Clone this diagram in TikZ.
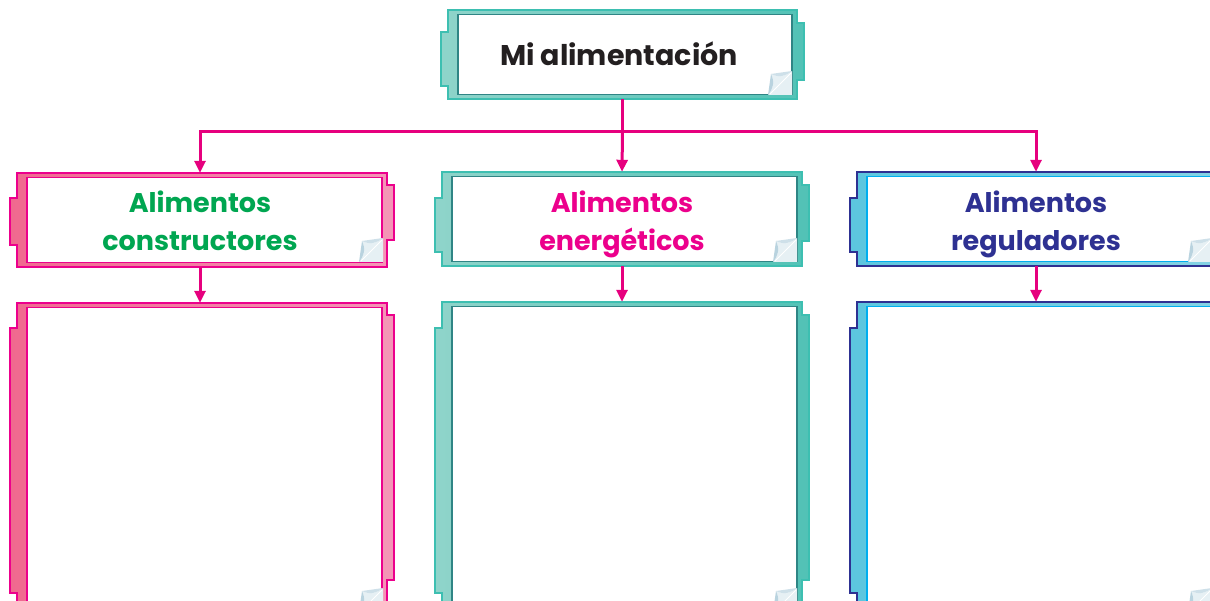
\documentclass[tikz,border=0pt]{standalone}
\usepackage{fontspec}
\setmainfont{Poppins}
\usetikzlibrary{arrows.meta,calc}
\definecolor{mag}{HTML}{E6007E}
\definecolor{tealO}{HTML}{3DBFB1}
\definecolor{tealL}{HTML}{8FD4CA}
\definecolor{tealR}{HTML}{52C2B6}
\definecolor{tealI}{HTML}{2F8585}
\definecolor{pinkO}{HTML}{EC008C}
\definecolor{pinkL}{HTML}{F0698F}
\definecolor{pinkR}{HTML}{F495B6}
\definecolor{blueO}{HTML}{2E3192}
\definecolor{blueL}{HTML}{5CC6DF}
\definecolor{blueR}{HTML}{86D3E4}
\definecolor{blueI}{HTML}{00AEEF}
\definecolor{txtgreen}{HTML}{00A651}
\definecolor{txtpink}{HTML}{EC008C}
\definecolor{txtnavy}{HTML}{2E3192}
\definecolor{txtblack}{HTML}{231F20}
\definecolor{curlA}{HTML}{B9D3DF}
\definecolor{curlB}{HTML}{E6F0F4}
% #1 L, #2 T, #3 R, #4 B, #5 lt1, #6 lt2, #7 rt1, #8 rt2, #9 colour prefix
\newcommand\decoframe[9]{%
  \path[draw=#9O,line width=1.2pt,left color=#9L,right color=#9R]
    (#1,#2) -- (#3,#2) -- (#3,#7) -- ({#3+7},#7) -- ({#3+7},#8) -- (#3,#8)
    -- (#3,#4) -- (#1,#4) -- (#1,#6) -- ({#1-7},#6) -- ({#1-7},#5) -- (#1,#5) -- cycle;
  \path[fill=white,draw=#9I,line width=1.2pt] ({#1+10},{#2+4.5}) rectangle ({#3-5},{#4-4.5});
}
\colorlet{pinkI}{pinkO}
% page curl at inner bottom-right corner
\newcommand\pagecurl[2]{%
  \begin{scope}[shift={(#1,#2)}]
    \fill[curlB] (-21,-21) .. controls (-13,-17) and (-6,-19) .. (0,-24) -- (0,0) -- (-24,0)
      .. controls (-19,-6) and (-17,-13) .. cycle;
    \fill[curlA] (-21,-21) .. controls (-17,-13) and (-19,-6) .. (-24,0) -- cycle;
    \fill[curlA!70!white] (-21,-21) .. controls (-13,-17) and (-6,-19) .. (0,-24) -- cycle;
    \draw[white,line width=0.8pt] (-22,-1) -- (-1,-22);
  \end{scope}}
\tikzset{
  x=1pt,y=-1pt,
  boxnode/.style={draw=none,inner sep=0pt},
  toptext/.style={font=\fontsize{28.5}{32}\selectfont\bfseries,text=txtblack},
  subtext/.style={align=center,font=\fontsize{27}{38}\selectfont\bfseries},
  conn/.style={draw=mag,line width=3pt},
  arr/.style={conn,-{Triangle[width=11pt,length=12pt]}},
}
\begin{document}
\begin{tikzpicture}
\useasboundingbox (0,0) rectangle (1210,601);
\begin{scope}
\clip (0,0) rectangle (1210,601);
% frames
\decoframe{448}{10}{797}{99}{32}{86}{23}{80}{teal}
\pagecurl{792}{95}
\decoframe{17}{173}{387}{267}{198}{245}{185}{240}{pink}
\pagecurl{383}{262}
\decoframe{442}{172}{802}{266}{198}{252}{185}{241}{teal}
\pagecurl{797}{262}
\decoframe{857}{172}{1217}{266}{198}{252}{185}{241}{blue}
\pagecurl{1212}{262}
\decoframe{17}{303}{387}{625}{328}{593}{315}{580}{pink}
\pagecurl{383}{612}
\decoframe{442}{302}{802}{625}{328}{593}{315}{580}{teal}
\pagecurl{797}{612}
\decoframe{857}{302}{1217}{625}{328}{593}{315}{580}{blue}
\pagecurl{1212}{612}
\end{scope}
% nodes (outer frame extents)
\node[boxnode,minimum width=349pt,minimum height=89pt] (top) at (622.5,54.5) {};
\node[toptext] (toplabel) at (619,54) {Mi alimentación};
\node[boxnode,minimum width=370pt,minimum height=94pt] (c1) at (202,220) {};
\node[boxnode,minimum width=360pt,minimum height=94pt] (c2) at (622,219) {};
\node[boxnode,minimum width=360pt,minimum height=94pt] (c3) at (1037,219) {};
\node[subtext,text=txtgreen] (t1) at (200,224) {Alimentos\\constructores\vphantom{g}};
\node[subtext,text=txtpink] (t2) at (622,224) {Alimentos\\energéticos\vphantom{g}};
\node[subtext,text=txtnavy] (t3) at (1036,224) {Alimentos\\reguladores\vphantom{g}};
\node[boxnode,minimum width=370pt,minimum height=322pt] (d1) at (202,464) {};
\node[boxnode,minimum width=360pt,minimum height=323pt] (d2) at (622,463.5) {};
\node[boxnode,minimum width=360pt,minimum height=323pt] (d3) at (1036,463.5) {};
% connectors
\coordinate (hub) at ($(top.south)+(0,32)$);
\draw[conn] (top.south) -- (hub);
\draw[arr] (hub) -| (c1.north -| t1.north);
\draw[arr] (hub) -- (c2.north);
\draw[arr] (hub) -| (c3.north -| t3.north);
\draw[arr] (c1.south -| t1.north) -- (d1.north -| t1.north);
\draw[arr] (c2.south) -- (d2.north);
\draw[arr] (c3.south -| t3.north) -- (d3.north -| t3.north);
\end{tikzpicture}
\end{document}
